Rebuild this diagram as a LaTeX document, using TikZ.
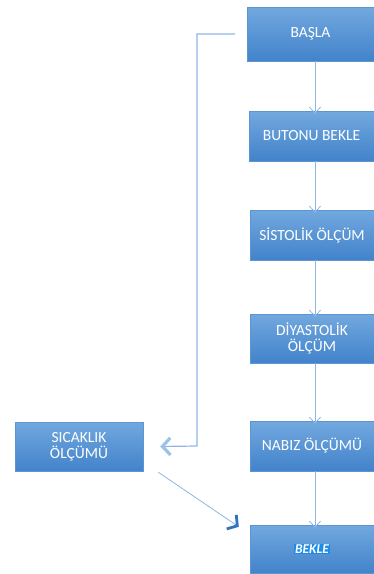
\documentclass[tikz,border=0pt]{standalone}
\usepackage{fontspec}
\setmainfont{Carlito}
\usetikzlibrary{arrows.meta}
\definecolor{boxtop}{HTML}{72A8DE}
\definecolor{boxbot}{HTML}{4283CB}
\definecolor{boxedge}{HTML}{5B95D3}
\definecolor{linec}{HTML}{8DB6E4}
\definecolor{headc}{HTML}{9CC2E8}
\definecolor{darkhead}{HTML}{2F72BE}
\definecolor{hl}{HTML}{1E8CE6}
\tikzset{
  flowbox/.style={rectangle, draw=boxedge, line width=0.4pt, top color=boxtop, bottom color=boxbot,
    text=white, align=center, inner sep=0pt,
    font=\fontsize{15.5}{16}\selectfont},
  conn/.style={draw=linec, line width=1pt, -{Straight Barb[length=6pt,width=11pt,line width=0.8pt]}},
  feedback/.style={draw=linec, line width=1.2pt, -{Straight Barb[length=8pt,width=17pt,line width=3.2pt,color=headc]}},
  diag/.style={draw=linec, line width=0.8pt, -{Straight Barb[length=7pt,width=17pt,line width=2.8pt,color=darkhead]}}
}
\begin{document}
\begin{tikzpicture}[x=1pt,y=-1pt]
\useasboundingbox (0,0) rectangle (374,574);
\node[flowbox, minimum width=127pt, minimum height=54pt] (basla) at (310.5,34) {BAŞLA};
\node[flowbox, minimum width=125pt, minimum height=50pt] (buton) at (311.5,136) {BUTONU BEKLE};
\node[flowbox, minimum width=124pt, minimum height=50pt] (sis) at (312,235) {SİSTOLİK ÖLÇÜM};
\node[flowbox, minimum width=124pt, minimum height=49pt] (dia) at (312,338.5) {DİYASTOLİK\\ÖLÇÜM};
\node[flowbox, minimum width=124pt, minimum height=50pt] (nabiz) at (312,446) {NABIZ ÖLÇÜMÜ};
\node[flowbox, minimum width=124pt, minimum height=48pt] (bekle) at (312,549) {\fontsize{13.5}{14}\selectfont\bfseries\itshape\setlength{\fboxsep}{0.6pt}\colorbox{hl}{BEKLE}};
\node[flowbox, minimum width=128pt, minimum height=49pt] (sicak) at (79,446.5) {SICAKLIK\\ÖLÇÜMÜ};

\coordinate (fbstart) at ([xshift=-12pt]basla.west);
\coordinate (fbcorner1) at (197,34);
\coordinate (fbcorner2) at (197,446);
\coordinate (fbend) at ([xshift=17pt]sicak.east);

\draw[conn] ([xshift=4.5pt]basla.south) -- ([xshift=3.5pt,yshift=-3pt]buton.north);
\draw[conn] ([xshift=3.5pt]buton.south) -- ([xshift=3pt,yshift=-3pt]sis.north);
\draw[conn] ([xshift=3pt]sis.south) -- ([xshift=3pt,yshift=-3pt]dia.north);
\draw[conn] ([xshift=3pt]dia.south) -- ([xshift=3pt,yshift=-3pt]nabiz.north);
\draw[conn] ([xshift=3pt]nabiz.south) -- ([xshift=3pt,yshift=-3pt]bekle.north);
\draw[feedback] (fbstart) -- (fbcorner1) -- (fbcorner2) -- (fbend);
\coordinate (dstart) at ([xshift=15pt,yshift=-1pt]sicak.south east);
\coordinate (dend) at ([xshift=-11pt,yshift=-2pt]bekle.north west);
\draw[diag] (dstart) -- (dend);
\end{tikzpicture}
\end{document}
